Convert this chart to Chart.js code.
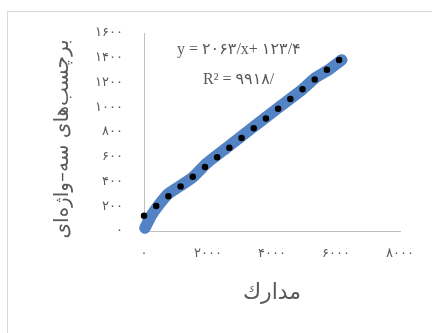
<!DOCTYPE html>
<html>
<head>
<meta charset="utf-8">
<script src="https://cdn.jsdelivr.net/npm/chart.js@4"></script>
<style>
  html, body { margin: 0; padding: 0; background: #ffffff; }
  #wrap { width: 432px; height: 333px; position: relative; }
</style>
</head>
<body>
<div id="wrap"><canvas id="c" width="432" height="333"></canvas></div>
<script>
// ---- data ----
const seriesX = [31, 219, 437, 750, 1125, 1531, 1959, 2625, 3366, 4188, 4928, 5344, 5759, 6178];
const seriesY = [24, 121, 202, 299, 364, 436, 547, 681, 830, 994, 1139, 1236, 1301, 1382];
const trendSlope = 0.2063;
const trendIntercept = 123.4;
const xTickLabels = ['۰', '۲۰۰۰', '۴۰۰۰', '۶۰۰۰', '۸۰۰۰'];
const yTickLabels = ['۰', '۲۰۰', '۴۰۰', '۶۰۰', '۸۰۰', '۱۰۰۰', '۱۲۰۰', '۱۴۰۰', '۱۶۰۰'];
const xTitle = 'مدارك';
const yTitle = 'برچسب‌های سه–واژه‌ای';
const equationText = 'y = ۲۰۶۳/x+ ۱۲۳/۴';
const r2Text = 'R² = ۹۹۱۸/';

const seriesPoints = seriesX.map((x, i) => ({ x: x, y: seriesY[i] }));
const trendStart = 0;
const trendEnd = seriesX[seriesX.length - 1];
const trendPoints = [trendStart, trendEnd].map(x => ({ x: x, y: trendSlope * x + trendIntercept }));

const textColor = '#595959';
const arabicFont = '"DejaVu Sans", "Liberation Serif", sans-serif';

function shiftTitle(scale, dx, dy) {
  const orig = scale.drawTitle;
  scale.drawTitle = function () {
    const ctx = this.ctx;
    ctx.save();
    ctx.translate(dx, dy);
    orig.call(this);
    ctx.restore();
  };
}

const framePlugin = {
  id: 'frame',
  afterLayout(chart) {
    if (!chart.$patched) {
      shiftTitle(chart.scales.y, 0, 7);
      chart.$patched = true;
    }
  },
  beforeDraw(chart) {
    const ctx = chart.ctx;
    ctx.save();
    ctx.fillStyle = '#ffffff';
    ctx.fillRect(0, 0, chart.width, chart.height);
    ctx.strokeStyle = '#d9d9d9';
    ctx.lineWidth = 1;
    ctx.strokeRect(7.5, 11.5, 600, 600);
    ctx.restore();
  },
  afterDraw(chart) {
    const ctx = chart.ctx;
    ctx.save();
    ctx.fillStyle = textColor;
    ctx.textBaseline = 'middle';
    ctx.textAlign = 'left';
    ctx.direction = 'ltr';
    ctx.font = '16px "Liberation Serif", "DejaVu Sans", serif';
    ctx.fillText(equationText, 177, 50);
    ctx.fillText(r2Text, 203, 80);
    ctx.restore();
  }
};

new Chart(document.getElementById('c'), {
  type: 'scatter',
  data: {
    datasets: [
      {
        label: 'trend',
        data: trendPoints,
        showLine: true,
        borderColor: '#000000',
        borderWidth: 6.5,
        borderDash: [0, 15.6],
        borderCapStyle: 'round',
        pointRadius: 0,
        tension: 0,
        clip: false,
        order: 0
      },
      {
        label: 'series',
        data: seriesPoints,
        showLine: true,
        borderColor: '#5283c4',
        borderWidth: 11.5,
        borderCapStyle: 'round',
        borderJoinStyle: 'round',
        pointRadius: 0,
        tension: 0.2,
        clip: false,
        order: 1
      }
    ]
  },
  options: {
    responsive: false,
    animation: false,
    devicePixelRatio: 1,
    layout: { padding: { left: 0, top: 33, right: 32, bottom: 0 } },
    plugins: { legend: { display: false }, tooltip: { enabled: false } },
    scales: {
      x: {
        type: 'linear',
        min: 0, max: 8000,
        afterFit(scale) { scale.height = 102; },
        grid: { display: false, drawTicks: false },
        border: { display: true, color: '#bfbfbf', width: 1 },
        ticks: {
          stepSize: 2000,
          padding: 15,
          color: textColor,
          font: { family: arabicFont, size: 13 },
          callback: (v, i) => xTickLabels[i]
        },
        title: {
          display: true,
          text: xTitle,
          color: textColor,
          font: { family: arabicFont, size: 22 },
          padding: { top: 0, bottom: 27 }
        }
      },
      y: {
        type: 'linear',
        min: 0, max: 1600,
        afterFit(scale) { scale.width = 144; },
        grid: { display: false, drawTicks: false },
        border: { display: true, color: '#bfbfbf', width: 1 },
        ticks: {
          stepSize: 200,
          padding: 21,
          color: textColor,
          font: { family: arabicFont, size: 13 },
          callback: (v, i) => yTickLabels[i]
        },
        title: {
          display: true,
          text: yTitle,
          color: textColor,
          font: { family: arabicFont, size: 20 },
          padding: { top: 51, bottom: 0 }
        }
      }
    }
  },
  plugins: [framePlugin]
});
</script>
</body>
</html>
